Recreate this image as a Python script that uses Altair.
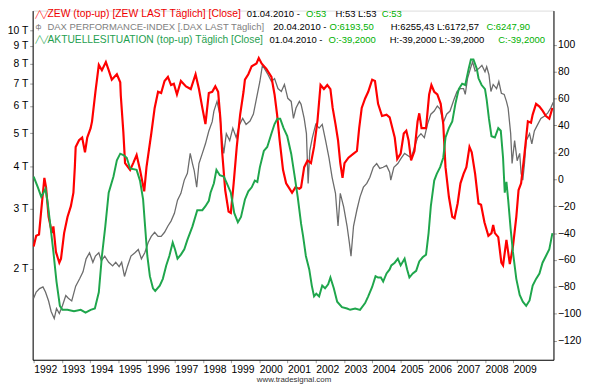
import altair as alt
import pandas as pd

# ---------------- data ----------------
zew_years = [
    1992.00, 1992.09, 1992.19, 1992.27, 1992.38, 1992.44, 1992.53, 1992.65, 1992.70, 1992.79, 1992.91, 1992.97,
    1993.08, 1993.20, 1993.32, 1993.41, 1993.46, 1993.49, 1993.61, 1993.72, 1993.82, 1993.90,
    1994.02, 1994.07, 1994.19, 1994.31, 1994.42, 1994.56, 1994.66, 1994.77, 1994.95,
    1995.07, 1995.09, 1995.18, 1995.24, 1995.42, 1995.53, 1995.65, 1995.77, 1995.92,
    1996.00, 1996.17, 1996.29, 1996.41, 1996.52, 1996.64, 1996.76, 1996.87, 1996.97,
    1997.08, 1997.22, 1997.40, 1997.57, 1997.74, 1997.86, 1997.98,
    1998.09, 1998.21, 1998.33, 1998.44, 1998.54, 1998.62, 1998.68, 1998.79, 1998.91, 1998.99,
    1999.09, 1999.20, 1999.32, 1999.44, 1999.49, 1999.61, 1999.73, 1999.90, 1999.98,
    2000.08, 2000.25, 2000.43, 2000.54, 2000.63, 2000.72, 2000.84, 2000.95,
    2001.07, 2001.16, 2001.28, 2001.42, 2001.48, 2001.59, 2001.71, 2001.83, 2001.94,
    2002.06, 2002.17, 2002.29, 2002.41, 2002.52, 2002.60, 2002.70, 2002.79, 2002.87, 2002.95,
    2003.02, 2003.16, 2003.34, 2003.46, 2003.54, 2003.63, 2003.75, 2003.86,
    2004.00, 2004.10, 2004.21, 2004.35, 2004.51, 2004.62, 2004.80, 2004.89,
    2005.01, 2005.12, 2005.21, 2005.29, 2005.38, 2005.50, 2005.61, 2005.67, 2005.75, 2005.91,
    2006.02, 2006.10, 2006.20, 2006.31, 2006.43, 2006.52, 2006.60, 2006.72, 2006.84, 2006.92,
    2007.03, 2007.13, 2007.24, 2007.34, 2007.45, 2007.53, 2007.65, 2007.77, 2007.86, 2007.98,
    2008.12, 2008.23, 2008.29, 2008.35, 2008.47, 2008.58, 2008.64, 2008.76, 2008.82, 2008.88, 2008.99,
    2009.11, 2009.19, 2009.28, 2009.40, 2009.52, 2009.63, 2009.69, 2009.81, 2009.93,
    2010.04, 2010.16, 2010.28, 2010.39,
]
zew_values = [
    -50, -42, -41, -23, 1, -6, -28, -40, -35, -54, -62, -59,
    -40, -28, -20, -10, 9, 24, 29, 31, 20, 31,
    38, 43, 65, 85, 81, 87, 81, 74, 78,
    72, 62, 35, 12, 7, 12, 18, 7, -9,
    9, 34, 53, 65, 64, 73, 76, 70, 71,
    63, 73, 69, 67, 78, 67, 53,
    41, 64, 65, 69, 65, 45, 21, -8, -24, -25,
    -3, 24, 48, 65, 74, 78, 84, 86, 90,
    86, 82, 76, 63, 48, 29, 7, -3,
    -7, -10, -6, -7, -6, 9, 14, 12, 24,
    43, 70, 67, 70, 67, 53, 41, 29, 12, 1,
    12, 16, 19, 21, 38, 53, 60, 65,
    74, 73, 56, 47, 48, 46, 31, 15,
    19, 34, 36, 29, 14, 21, 43, 49, 38, 38,
    63, 70, 65, 63, 56, 41, 9, -13, -28, -29,
    -18, -3, 4, 9, 24, 20, 4, -18, -19, -32,
    -42, -40, -34, -40, -43, -62, -64, -45, -54, -63, -50,
    -28, -8, -3, 19, 43, 42, 48, 56, 54,
    51, 47, 45, 53,
]

akt_years = [
    1992.00, 1992.15, 1992.27, 1992.35, 1992.42, 1992.50, 1992.58, 1992.70, 1992.81, 1992.93,
    1993.02, 1993.20, 1993.43, 1993.67, 1993.84,
    1994.02, 1994.17, 1994.31, 1994.42, 1994.54, 1994.66, 1994.83, 1994.95,
    1995.07, 1995.18, 1995.30, 1995.42, 1995.65, 1995.77, 1995.88, 1995.94,
    1996.03, 1996.12, 1996.23, 1996.31, 1996.47, 1996.58, 1996.70, 1996.81, 1996.93,
    1997.01, 1997.10, 1997.22, 1997.34, 1997.45, 1997.63, 1997.80, 1997.98,
    1998.09, 1998.21, 1998.27, 1998.39, 1998.48, 1998.60, 1998.74, 1998.85, 1998.99,
    1999.11, 1999.24, 1999.35, 1999.49, 1999.61, 1999.73, 1999.84, 1999.93,
    2000.02, 2000.16, 2000.28, 2000.43, 2000.54, 2000.64, 2000.74, 2000.86, 2000.99,
    2001.13, 2001.24, 2001.36, 2001.48, 2001.55, 2001.65, 2001.77, 2001.86, 2001.94,
    2002.02, 2002.12, 2002.23, 2002.33, 2002.44, 2002.52, 2002.64, 2002.76, 2002.93,
    2003.11, 2003.22, 2003.40, 2003.57, 2003.75, 2003.86,
    2004.00, 2004.12, 2004.21, 2004.31, 2004.39, 2004.51, 2004.62, 2004.68, 2004.80, 2004.91,
    2005.01, 2005.15, 2005.24, 2005.32, 2005.44, 2005.56, 2005.67, 2005.79, 2005.91,
    2006.00, 2006.08, 2006.20, 2006.29, 2006.41, 2006.52, 2006.60, 2006.72, 2006.84, 2006.95,
    2007.07, 2007.19, 2007.30, 2007.42, 2007.50, 2007.59, 2007.71, 2007.77, 2007.88,
    2008.00, 2008.06, 2008.14, 2008.23, 2008.35, 2008.47, 2008.56, 2008.64, 2008.70, 2008.76, 2008.82, 2008.91, 2008.99,
    2009.11, 2009.23, 2009.34, 2009.46, 2009.58, 2009.69, 2009.81, 2009.93,
    2010.04, 2010.16, 2010.28, 2010.39,
]
akt_values = [
    2, -6, -13, -10, -7, -18, -32, -54, -76, -94,
    -97, -97, -98, -97, -99,
    -97, -96, -84, -57, -35, -10, 2, 14,
    19, 18, 16, 8, 7, -1, -15, -32,
    -57, -72, -81, -83, -79, -74, -64, -57, -47,
    -52, -59, -56, -52, -45, -35, -23, -23,
    -20, -16, -10, -3, 7, 3, 2, -3, -10,
    -25, -32, -28, -15, -9, -6, -1, -2,
    9, 21, 24, 34, 41, 45, 45, 38, 32,
    19, 4, -13, -33, -42, -57, -67, -79, -87,
    -85, -87, -79, -81, -78, -73, -81, -91, -95,
    -96, -97, -96, -97, -92, -87,
    -80, -72, -73, -73, -76, -70, -67, -64, -62, -59,
    -64, -59, -67, -73, -70, -68, -61, -58, -56,
    -40, -20, -1, 4, 9, 16, 31, 38, 43, 56,
    67, 71, 70, 82, 89, 89, 82, 75, 70,
    67, 59, 45, 32, 31, 38, 36, 16, -10, -2, -15, -37, -54,
    -74, -86, -91, -94, -90, -79, -74, -70,
    -62, -57, -52, -40,
]

dax_years = [
    1992.00, 1992.09, 1992.21, 1992.33, 1992.42, 1992.53, 1992.62, 1992.73, 1992.81, 1992.91,
    1993.02, 1993.14, 1993.23, 1993.35, 1993.49, 1993.63, 1993.75, 1993.86, 1993.98,
    1994.10, 1994.19, 1994.31, 1994.40, 1994.52, 1994.66, 1994.80, 1994.91,
    1995.03, 1995.12, 1995.22, 1995.33, 1995.45, 1995.59, 1995.71, 1995.82, 1995.94,
    1996.06, 1996.17, 1996.29, 1996.41, 1996.52, 1996.64, 1996.76, 1996.87, 1996.99,
    1997.10, 1997.22, 1997.34, 1997.45, 1997.55, 1997.63, 1997.69, 1997.78, 1997.86, 1997.98,
    1998.09, 1998.21, 1998.33, 1998.39, 1998.50, 1998.60, 1998.68, 1998.74, 1998.83, 1998.95,
    1999.06, 1999.18, 1999.30, 1999.41, 1999.53, 1999.67, 1999.79, 1999.90,
    2000.02, 2000.11, 2000.19, 2000.31, 2000.43, 2000.54, 2000.66, 2000.78, 2000.89,
    2001.01, 2001.13, 2001.21, 2001.30, 2001.42, 2001.48, 2001.59, 2001.67, 2001.73, 2001.79, 2001.88,
    2002.00, 2002.12, 2002.23, 2002.35, 2002.47, 2002.58, 2002.70, 2002.79, 2002.87, 2002.99,
    2003.11, 2003.19, 2003.25, 2003.34, 2003.46, 2003.57, 2003.69, 2003.81, 2003.92,
    2004.04, 2004.16, 2004.27, 2004.39, 2004.51, 2004.62, 2004.66, 2004.77, 2004.91,
    2005.03, 2005.15, 2005.26, 2005.38, 2005.50, 2005.61, 2005.73, 2005.85, 2005.96,
    2006.08, 2006.20, 2006.31, 2006.41, 2006.52, 2006.64, 2006.76, 2006.90,
    2007.01, 2007.13, 2007.24, 2007.30, 2007.38, 2007.48, 2007.56, 2007.65, 2007.77, 2007.89,
    2008.00, 2008.06, 2008.14, 2008.21, 2008.29, 2008.41, 2008.49, 2008.58, 2008.68, 2008.76, 2008.82, 2008.91, 2008.96,
    2009.05, 2009.14, 2009.23, 2009.28, 2009.34, 2009.40, 2009.46, 2009.58, 2009.66, 2009.75, 2009.87, 2009.98,
    2010.10, 2010.22, 2010.33, 2010.42,
]
dax_values = [
    1640, 1710, 1750, 1770, 1710, 1610, 1500, 1430, 1530, 1480,
    1560, 1670, 1640, 1610, 1780, 1870, 1960, 2140, 2230,
    2090, 2180, 2230, 2110, 2180, 2090, 2040, 2090,
    2030, 2090, 1900, 2040, 2180, 2230, 2280, 2140, 2230,
    2390, 2490, 2560, 2490, 2490, 2560, 2670, 2760, 2910,
    3180, 3330, 3640, 3810, 4360, 4070, 3890, 3470, 4070, 4360,
    4650, 5070, 5400, 5800, 6190, 5680, 4750, 4360, 4980, 4750,
    5170, 4850, 5300, 5520, 5300, 5420, 5680, 6320,
    7080, 7900, 7710, 7410, 7080, 7220, 6750, 6620, 6940,
    6320, 6190, 5520, 5920, 6190, 6070, 5520, 4980, 3560, 4440, 4850,
    5300, 5170, 5300, 4750, 4230, 3710, 3330, 2670, 3330, 3040,
    2670, 2390, 2180, 2670, 2980, 3250, 3470, 3560, 3710,
    3970, 4070, 3940, 3970, 4020, 3840, 3640, 3970, 4070,
    4220, 4360, 4300, 4230, 4540, 4850, 4980, 4850, 5300,
    5680, 5800, 6000, 5880, 5360, 5680, 5800, 6270,
    6620, 6750, 6750, 6490, 7220, 7710, 8080, 7600, 7710, 7900,
    7560, 7820, 7410, 6620, 6940, 6750, 7080, 6540, 6490, 6190, 5920, 4980, 4070,
    4750, 4150, 4360, 3810, 3640, 4070, 4750, 4980, 4650, 5070, 5300, 5520,
    5600, 5720, 5920, 6150,
]

year_ticks = list(range(1992, 2010))
left_ticks = [2000, 3000, 4000, 5000, 6000, 7000, 8000, 9000, 10000]
right_ticks = [-120, -100, -80, -60, -40, -20, 0, 20, 40, 60, 80, 100]

legend_lines = [
    [("ZEW (top-up) [ZEW LAST Täglich] [Close]", "red"), ("01.04.2010 -", "black"),
     ("O:53", "green"), ("H:53 L:53", "black"), ("C:53", "green")],
    [("DAX PERFORMANCE-INDEX [.DAX LAST Täglich]", "grey"), ("20.04.2010 -", "black"),
     ("O:6193,50", "green"), ("H:6255,43 L:6172,57", "black"), ("C:6247,90", "green")],
    [("AKTUELLESITUATION (top-up) Täglich [Close]", "akt"), ("01.04.2010 -", "black"),
     ("O:-39,2000", "green"), ("H:-39,2000 L:-39,2000", "black"), ("C:-39,2000", "green")],
]

# ---------------- layout / style ----------------
W, H = 528, 354
FONT = "Liberation Sans"
RED = "#ff0000"
AKT = "#1fa64c"
GREY = "#6c6c6c"
COLORS = {"red": "#ee0000", "black": "#000000", "green": "#00b000",
          "grey": "#808080", "akt": "#1fa050"}
seg_x = [[15, 217, 277, 307, 354],
         [15, 244, 301, 363, 460],
         [15, 240, 300, 362, 472]]
name_size = [10.5, 9.6, 10.4]
value_size = 9.6
line_y = [4, 17, 30]
icon_txt = ["╱╲╱", "ф", "╱╲╱"]
icon_col = [RED, GREY, AKT]

zew_df = pd.DataFrame({"year": zew_years, "v": zew_values})
akt_df = pd.DataFrame({"year": akt_years, "v": akt_values})
dax_df = pd.DataFrame({"year": dax_years, "dax": dax_values})

x_enc = alt.X(
    "year:Q",
    scale=alt.Scale(domain=[1991.965, 2010.427], nice=False, zero=False),
    axis=alt.Axis(values=year_ticks, format="d", labelAlign="left", labelPadding=2,
                  tickSize=3, tickColor="#999999", domainColor="#000000",
                  labelColor="#000000", labelFontSize=10.5, labelFont=FONT,
                  grid=False, title=None, labelOverlap=False, labelFlush=False),
)

right_scale = alt.Scale(domain=[-134.1, 125.3], nice=False, zero=False)

dax_line = alt.Chart(dax_df).mark_line(color=GREY, strokeWidth=1.3, clip=True).encode(
    x=x_enc,
    y=alt.Y("dax:Q",
            scale=alt.Scale(type="log", domain=[1083, 11424], nice=False, zero=False),
            axis=alt.Axis(orient="left", values=left_ticks, labelExpr="datum.value / 1000 + ' T'",
                          tickSize=3, tickColor="#999999", labelPadding=2, domainColor="#000000",
                          labelColor="#000000", labelFontSize=10.5, labelFont=FONT,
                          grid=False, title=None)),
)

zew_line = alt.Chart(zew_df).mark_line(color=RED, strokeWidth=2.2, clip=True).encode(
    x=x_enc,
    y=alt.Y("v:Q", scale=right_scale,
            axis=alt.Axis(orient="right", values=right_ticks, tickSize=3, tickColor="#999999",
                          labelPadding=1, domainColor="#000000", labelColor="#000000",
                          labelFontSize=10.5, labelFont=FONT, grid=False, title=None)),
)

akt_line = alt.Chart(akt_df).mark_line(color=AKT, strokeWidth=2, clip=True).encode(
    x=x_enc,
    y=alt.Y("v:Q", scale=right_scale, axis=None),
)

texts = []
for i, segs in enumerate(legend_lines):
    texts.append(
        alt.Chart(alt.Data(values=[{}])).mark_text(
            align="left", baseline="middle", font="DejaVu Sans", fontSize=7, color=icon_col[i]
        ).encode(x=alt.value(3), y=alt.value(line_y[i]), text=alt.value(icon_txt[i]))
    )
    for j, (t, ck) in enumerate(segs):
        texts.append(
            alt.Chart(alt.Data(values=[{}])).mark_text(
                align="left", baseline="middle", font=FONT,
                fontSize=name_size[i] if j == 0 else value_size, color=COLORS[ck]
            ).encode(x=alt.value(seg_x[i][j]), y=alt.value(line_y[i]), text=alt.value(t))
        )

watermark = alt.Chart(alt.Data(values=[{}])).mark_text(
    align="center", baseline="middle", font=FONT, fontSize=8, color="#333333"
).encode(x=alt.value(265), y=alt.value(375), text=alt.value("www.tradesignal.com"))

chart = alt.layer(dax_line, zew_line, akt_line, *texts, watermark).resolve_scale(
    y="independent"
).properties(
    width=W, height=H,
    autosize=alt.AutoSizeParams(type="none"),
    padding={"left": 25, "top": 0, "right": 34, "bottom": 26},
).configure_view(stroke=None).configure(background="white")

chart.save("out.html", embed_options={"renderer": "svg", "actions": False})
